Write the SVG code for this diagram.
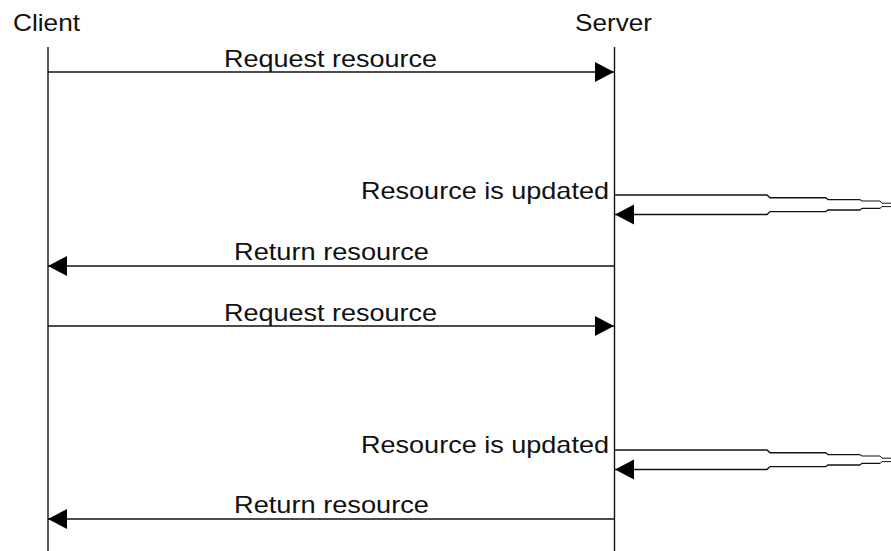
<svg xmlns="http://www.w3.org/2000/svg" width="891" height="551" viewBox="0 0 891 551">
<style>
.t{font-family:"Liberation Sans",Arial,sans-serif;font-size:24px;fill:#111}
.ln{stroke:#111;stroke-width:1.4;fill:none}
.s2{stroke-width:1.3}
.s3{stroke-width:1.1}
.s4{stroke-width:1}
</style>
<defs>
<marker id="ah" markerUnits="userSpaceOnUse" markerWidth="20" markerHeight="22" refX="19" refY="10" orient="auto">
<path d="M0,0 L19,10 L0,20 Z" fill="#000"/>
</marker>
</defs>
<rect width="891" height="551" fill="#fff"/>
<g id="client">
<text class="t" x="13" y="31" textLength="67" lengthAdjust="spacingAndGlyphs">Client</text>
<line class="ln" x1="48" y1="47" x2="48" y2="551"/>
</g>
<g id="server">
<text class="t" x="575" y="31" textLength="77" lengthAdjust="spacingAndGlyphs">Server</text>
<line class="ln" x1="614.5" y1="47" x2="614.5" y2="551"/>
</g>
<g id="connectors">
<line class="ln" x1="48" y1="72" x2="614" y2="72" marker-end="url(#ah)"/>
<text class="t" x="224" y="67" textLength="213" lengthAdjust="spacingAndGlyphs">Request resource</text>
<g id="update1">
<path class="ln" d="M615,195 H767 L770,197.7 H826"/>
<path class="ln s2" d="M826,197.7 L828,199.6 H860"/>
<path class="ln s3" d="M860,199.6 L862,201 H880"/>
<path class="ln s4" d="M880,201 L882,203.2 H891"/>
<path class="ln s4" d="M891,206.6 H882 L880,208.4"/>
<path class="ln s3" d="M880,208.4 H862 L860,210"/>
<path class="ln s2" d="M860,210 H828 L826,211.6"/>
<path class="ln" d="M826,211.6 H770 L767,214.5 H615" marker-end="url(#ah)"/>
</g>
<text class="t" x="361" y="199" textLength="248" lengthAdjust="spacingAndGlyphs">Resource is updated</text>
<line class="ln" x1="614" y1="266" x2="48" y2="266" marker-end="url(#ah)"/>
<text class="t" x="234" y="260" textLength="195" lengthAdjust="spacingAndGlyphs">Return resource</text>
<line class="ln" x1="48" y1="326" x2="614" y2="326" marker-end="url(#ah)"/>
<text class="t" x="224" y="321" textLength="213" lengthAdjust="spacingAndGlyphs">Request resource</text>
<g id="update2" transform="translate(0,255)">
<path class="ln" d="M615,195 H767 L770,197.7 H826"/>
<path class="ln s2" d="M826,197.7 L828,199.6 H860"/>
<path class="ln s3" d="M860,199.6 L862,201 H880"/>
<path class="ln s4" d="M880,201 L882,203.2 H891"/>
<path class="ln s4" d="M891,206.6 H882 L880,208.4"/>
<path class="ln s3" d="M880,208.4 H862 L860,210"/>
<path class="ln s2" d="M860,210 H828 L826,211.6"/>
<path class="ln" d="M826,211.6 H770 L767,214.5 H615" marker-end="url(#ah)"/>
</g>
<text class="t" x="361" y="453" textLength="248" lengthAdjust="spacingAndGlyphs">Resource is updated</text>
<line class="ln" x1="614" y1="519" x2="48" y2="519" marker-end="url(#ah)"/>
<text class="t" x="234" y="513" textLength="195" lengthAdjust="spacingAndGlyphs">Return resource</text>
</g>
</svg>
